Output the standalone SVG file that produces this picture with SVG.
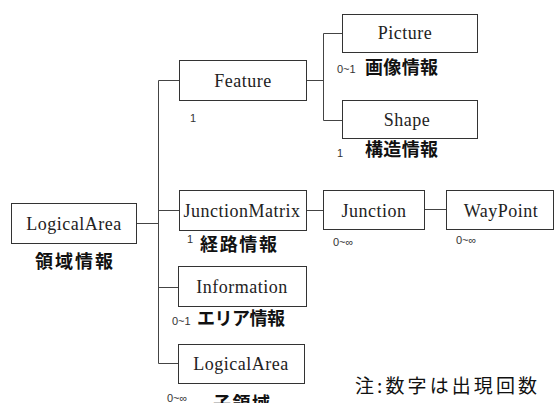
<svg xmlns="http://www.w3.org/2000/svg" width="556" height="403" viewBox="0 0 556 403">
  <style>
    .box rect { fill: #ffffff; stroke: #333333; stroke-width: 1; }
    .box text { font-family: "Liberation Serif", "Times New Roman", serif; font-size: 18px; letter-spacing: 0.5px; fill: #222222; text-anchor: middle; }
    .wire line { stroke: #444444; stroke-width: 1; }
    .jp { font-family: "Noto Sans CJK JP", "Noto Sans CJK SC", sans-serif; font-size: 18px; font-weight: bold; fill: #111111; }
    .mult { font-family: "Liberation Sans", "DejaVu Sans", sans-serif; font-size: 11px; fill: #333333; }
    .note { font-family: "Noto Sans CJK JP", "Noto Sans CJK SC", sans-serif; font-size: 19px; fill: #111111; }
  </style>

  <!-- tree connectors -->
  <g id="connectors" class="wire">
    <line x1="136" y1="223.5" x2="158.5" y2="223.5"/>
    <line x1="158.5" y1="80.5" x2="158.5" y2="363.5"/>
    <line x1="158.5" y1="80.5" x2="179" y2="80.5"/>
    <line x1="158.5" y1="210.5" x2="179" y2="210.5"/>
    <line x1="158.5" y1="287.5" x2="178" y2="287.5"/>
    <line x1="158.5" y1="363.5" x2="178" y2="363.5"/>
    <line x1="306" y1="80.5" x2="323.5" y2="80.5"/>
    <line x1="323.5" y1="33.5" x2="323.5" y2="120.5"/>
    <line x1="323.5" y1="33.5" x2="342" y2="33.5"/>
    <line x1="323.5" y1="120.5" x2="342" y2="120.5"/>
    <line x1="306" y1="210.5" x2="323" y2="210.5"/>
    <line x1="424" y1="209.5" x2="446" y2="209.5"/>
  </g>

  <!-- root area -->
  <g id="logical-area" class="box">
    <rect x="11.5" y="203.5" width="125" height="40"/>
    <text x="74" y="230">LogicalArea</text>
  </g>
  <text class="jp" x="35" y="268" textLength="78">領域情報</text>

  <g id="feature" class="box">
    <rect x="179.5" y="60.5" width="127" height="40"/>
    <text x="243" y="87">Feature</text>
  </g>
  <text class="mult" x="190" y="122">1</text>

  <g id="picture" class="box">
    <rect x="342.5" y="14.5" width="135" height="38"/>
    <text x="405" y="39">Picture</text>
  </g>
  <text class="mult" x="337" y="73">0~1</text>
  <text class="jp" x="365" y="74" textLength="73">画像情報</text>

  <g id="shape" class="box">
    <rect x="342.5" y="100.5" width="135" height="38"/>
    <text x="407" y="126">Shape</text>
  </g>
  <text class="mult" x="337" y="157">1</text>
  <text class="jp" x="365" y="156" textLength="73">構造情報</text>

  <g id="junction-matrix" class="box">
    <rect x="179.5" y="190.5" width="127" height="40"/>
    <text x="242" y="217">JunctionMatrix</text>
  </g>
  <text class="mult" x="187" y="243">1</text>
  <text class="jp" x="200" y="251" textLength="77">経路情報</text>

  <g id="junction" class="box">
    <rect x="323.5" y="190.5" width="101" height="39"/>
    <text x="374" y="217">Junction</text>
  </g>
  <text class="mult" x="333" y="246">0~∞</text>

  <g id="waypoint" class="box">
    <rect x="446.5" y="190.5" width="107" height="39"/>
    <text x="501" y="217">WayPoint</text>
  </g>
  <text class="mult" x="456" y="244">0~∞</text>

  <g id="information" class="box">
    <rect x="178.5" y="266.5" width="128" height="40"/>
    <text x="242" y="293">Information</text>
  </g>
  <text class="mult" x="172" y="325">0~1</text>
  <text class="jp" x="197" y="325" textLength="88">エリア情報</text>

  <g id="child-area" class="box">
    <rect x="178.5" y="344.5" width="126" height="39"/>
    <text x="241" y="370">LogicalArea</text>
  </g>
  <text class="mult" x="167" y="402">0~∞</text>
  <text class="jp" x="213" y="410" textLength="57">子領域</text>

  <!-- legend -->
  <text class="note" x="355" y="393" textLength="182">注:数字は出現回数</text>
</svg>
